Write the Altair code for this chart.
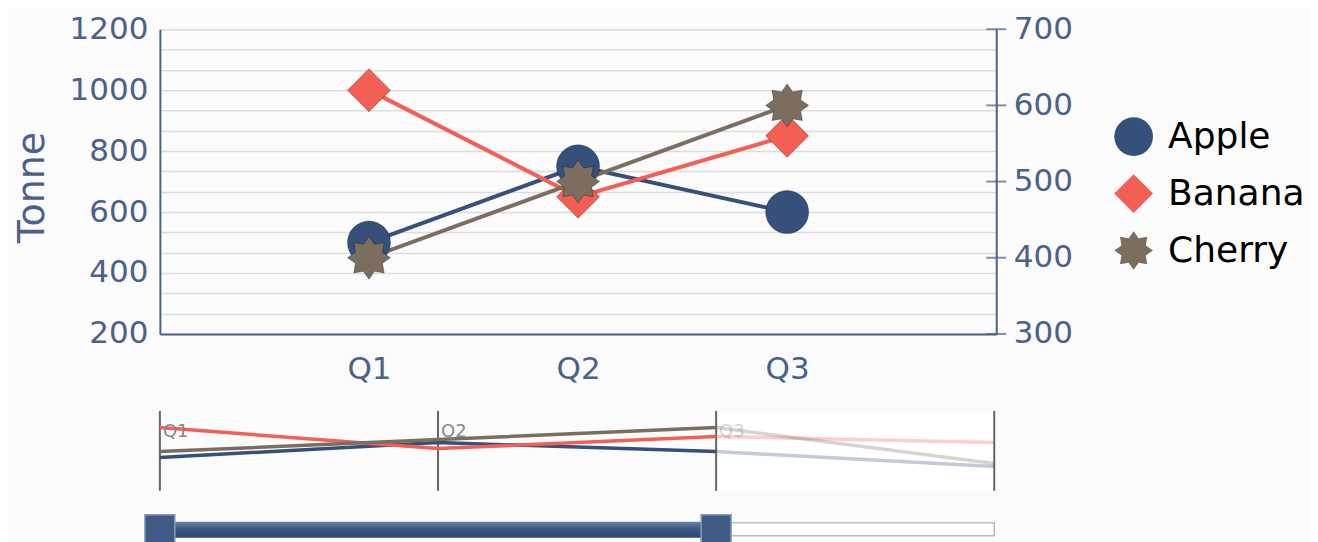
import math
import altair as alt
import pandas as pd

# ---------------- data ----------------
quarters = ["Q1", "Q2", "Q3", "Q4"]
visible_quarters = ["Q1", "Q2", "Q3"]
series_names = ["Apple", "Banana", "Cherry"]
apple_values = [500, 750, 600, 350]
banana_values = [1000, 650, 850, 750]
cherry_values = [400, 500, 600, 300]
right_axis_series = ["Cherry"]
left_tick_labels = [200, 400, 600, 800, 1000, 1200]
right_tick_labels = [300, 400, 500, 600, 700]

# ---------------- style ----------------
series_colors = ["#34507b", "#f35f55", "#7b6e5f"]
AXIS = "#4a6189"
FONT = "DejaVu Sans"
W, H = 837, 305
NAV_W, NAV_H = 835, 80

# 8-pointed star marker path
pts = []
for i in range(16):
    r = 1.0 if i % 2 == 0 else 0.68
    a = math.pi * i / 8 - math.pi / 2
    pts.append(f"{r * math.cos(a):.3f},{r * math.sin(a):.3f}")
star_path = "M" + " L".join(pts) + " Z"

rows = []
for name, vals in zip(series_names, [apple_values, banana_values, cherry_values]):
    for q, v in zip(quarters, vals):
        rows.append({"quarter": q, "series": name, "value": v,
                     "side": "right" if name in right_axis_series else "left"})
df = pd.DataFrame(rows)
main_df = df[df.quarter.isin(visible_quarters)]
main_left = main_df[main_df.side == "left"]
main_right = main_df[main_df.side == "right"]
out_quarters = quarters[len(visible_quarters) - 1:]
nav_in = df[df.quarter.isin(visible_quarters)]
nav_out = df[df.quarter.isin(out_quarters)]

lo, hi = left_tick_labels[0], left_tick_labels[-1]
grid_values = [lo + i * (hi - lo) / 15 for i in range(16)]

legend_kw = dict(title=None, orient="none", legendX=955, legendY=88,
                 labelFontSize=36, labelColor="black", labelFont=FONT,
                 symbolSize=1500, rowPadding=18, labelOffset=15,
                 symbolStrokeWidth=0)
color_enc = alt.Color(
    "series:N",
    scale=alt.Scale(domain=series_names, range=series_colors),
    legend=alt.Legend(**legend_kw),
)
shape_enc = alt.Shape(
    "series:N",
    scale=alt.Scale(domain=series_names, range=["circle", "diamond", star_path]),
    legend=alt.Legend(**legend_kw),
)

x_main = alt.X(
    "quarter:N",
    scale=alt.Scale(type="point", domain=visible_quarters, padding=1),
    axis=alt.Axis(title=None, labelAngle=0, ticks=False, grid=False,
                  domainColor=AXIS, domainWidth=2, labelColor=AXIS,
                  labelFontSize=31, labelFont=FONT, labelPadding=21),
)

left_scale = alt.Scale(domain=[lo, hi], nice=False, zero=False)
right_scale = alt.Scale(domain=[right_tick_labels[0], right_tick_labels[-1]], nice=False, zero=False)

y_left_axis = alt.Y(
    "value:Q", scale=left_scale,
    axis=alt.Axis(values=grid_values,
                  labelExpr="abs(datum.value/200 - round(datum.value/200)) < 0.01 ? format(datum.value, 'd') : ''",
                  labelOverlap=False, ticks=False, grid=True, gridColor="#dcdcdc",
                  gridWidth=1.5, domainColor=AXIS, domainWidth=2,
                  labelColor=AXIS, labelFontSize=31, labelFont=FONT, labelPadding=12,
                  title="Tonne", titleFontSize=38, titleFontWeight="normal",
                  titleColor=AXIS, titleFont=FONT, titlePadding=18, titleY=158),
)
y_left_plain = alt.Y("value:Q", scale=left_scale, axis=None)
y_right_axis = alt.Y(
    "value:Q", scale=right_scale,
    axis=alt.Axis(orient="right", values=right_tick_labels, ticks=False, grid=False,
                  domainColor=AXIS, domainWidth=2, labelColor=AXIS,
                  labelFontSize=31, labelFont=FONT, labelPadding=17, title=None),
)
y_right_plain = alt.Y("value:Q", scale=right_scale, axis=None)

left_lines = alt.Chart(main_left).mark_line(strokeWidth=4).encode(
    x=x_main, y=y_left_plain, color=color_enc, detail="series:N")
right_lines = alt.Chart(main_right).mark_line(strokeWidth=4).encode(
    x=x_main, y=y_right_plain, color=color_enc, detail="series:N")
left_points = alt.Chart(main_left).mark_point(
    filled=True, size=1850, opacity=1, stroke="rgba(0,0,0,0.3)", strokeWidth=1
).encode(x=x_main, y=y_left_axis, color=color_enc, shape=shape_enc)
right_points = alt.Chart(main_right).mark_point(
    filled=True, size=1850, opacity=1, stroke="rgba(0,0,0,0.3)", strokeWidth=1
).encode(x=x_main, y=y_right_axis, color=color_enc, shape=shape_enc)
right_ticks = alt.Chart(pd.DataFrame({"value": right_tick_labels})).mark_tick(
    orient="horizontal", size=20, thickness=2, color=AXIS
).encode(x=alt.value(W), y=y_right_plain)

main = alt.layer(left_lines, right_lines, left_points, right_points, right_ticks).resolve_scale(
    y="independent").properties(width=W, height=H)

# ---------------- navigator ----------------
nav_x_scale = alt.Scale(type="point", domain=quarters, padding=0)
x_nav_axis = alt.X(
    "quarter:N", scale=nav_x_scale,
    axis=alt.Axis(title=None, labels=False, domain=False, grid=False, ticks=True,
                  tickColor="black", tickSize=10, tickWidth=2.5, offset=5),
)
x_nav = alt.X("quarter:N", scale=nav_x_scale, axis=None)
nav_left_scale = alt.Scale(domain=[-55, 1278], nice=False, zero=False)
nav_right_scale = alt.Scale(domain=[72, 739], nice=False, zero=False)

range_out = pd.DataFrame({"start": [out_quarters[0]], "end": [out_quarters[-1]]})
range_in = pd.DataFrame({"start": [visible_quarters[0]], "end": [visible_quarters[-1]]})
thumbs = pd.DataFrame({"quarter": [visible_quarters[0], visible_quarters[-1]]})

x_start = alt.X("start:N", scale=nav_x_scale, axis=None)

bg_out = alt.Chart(range_out).mark_rect(fill="white").encode(
    x=x_start, x2="end:N", y=alt.value(2), y2=alt.value(NAV_H))


def nav_lines(data, side, opacity):
    sc = nav_left_scale if side == "left" else nav_right_scale
    return alt.Chart(data[data.side == side]).mark_line(strokeWidth=3.5, opacity=opacity).encode(
        x=x_nav, y=alt.Y("value:Q", scale=sc, axis=None), color=color_enc, detail="series:N")


rules = alt.Chart(pd.DataFrame({"quarter": quarters})).mark_rule(color="#666", strokeWidth=2).encode(
    x=x_nav_axis, y=alt.value(0), y2=alt.value(NAV_H))
qlabels = alt.Chart(pd.DataFrame({"quarter": visible_quarters})).mark_text(
    align="left", baseline="middle", dx=3, fontSize=18, font=FONT, color="#888"
).encode(
    x=x_nav, y=alt.value(21), text="quarter:N",
    opacity=alt.condition(f"datum.quarter == '{visible_quarters[-1]}'", alt.value(0.35), alt.value(1)))

track = alt.Chart(range_out).mark_rect(fill="white", stroke="#bbbbbb", strokeWidth=1.5).encode(
    x=x_start, x2="end:N", y=alt.value(112), y2=alt.value(125))
bar_grad = alt.Gradient(gradient="linear", x1=0, x2=0, y1=0, y2=1,
                        stops=[alt.GradientStop(color="#6f85a8", offset=0),
                               alt.GradientStop(color="#3d5a86", offset=0.4),
                               alt.GradientStop(color="#2c4670", offset=1)])
bar = alt.Chart(range_in).mark_rect(fill=bar_grad).encode(
    x=x_start, x2="end:N", y=alt.value(111), y2=alt.value(127))
thumb = alt.Chart(thumbs).mark_square(size=900, fill="#3f5b86", stroke="#8a9bb6",
                                      strokeWidth=1.5, opacity=1).encode(
    x=x_nav, y=alt.value(119))

nav = alt.layer(
    bg_out, rules,
    nav_lines(nav_in, "left", 1), nav_lines(nav_in, "right", 1),
    nav_lines(nav_out, "left", 0.3), nav_lines(nav_out, "right", 0.3),
    qlabels, track, bar, thumb,
).resolve_scale(y="independent").properties(width=NAV_W, height=NAV_H)

chart = alt.vconcat(main, nav, spacing=25).configure_view(strokeWidth=0).properties(
    background="#fbfbfb", padding={"left": 5, "top": 5, "right": 5, "bottom": 0})

chart.save("out.html", embed_options={"renderer": "svg", "actions": False})
